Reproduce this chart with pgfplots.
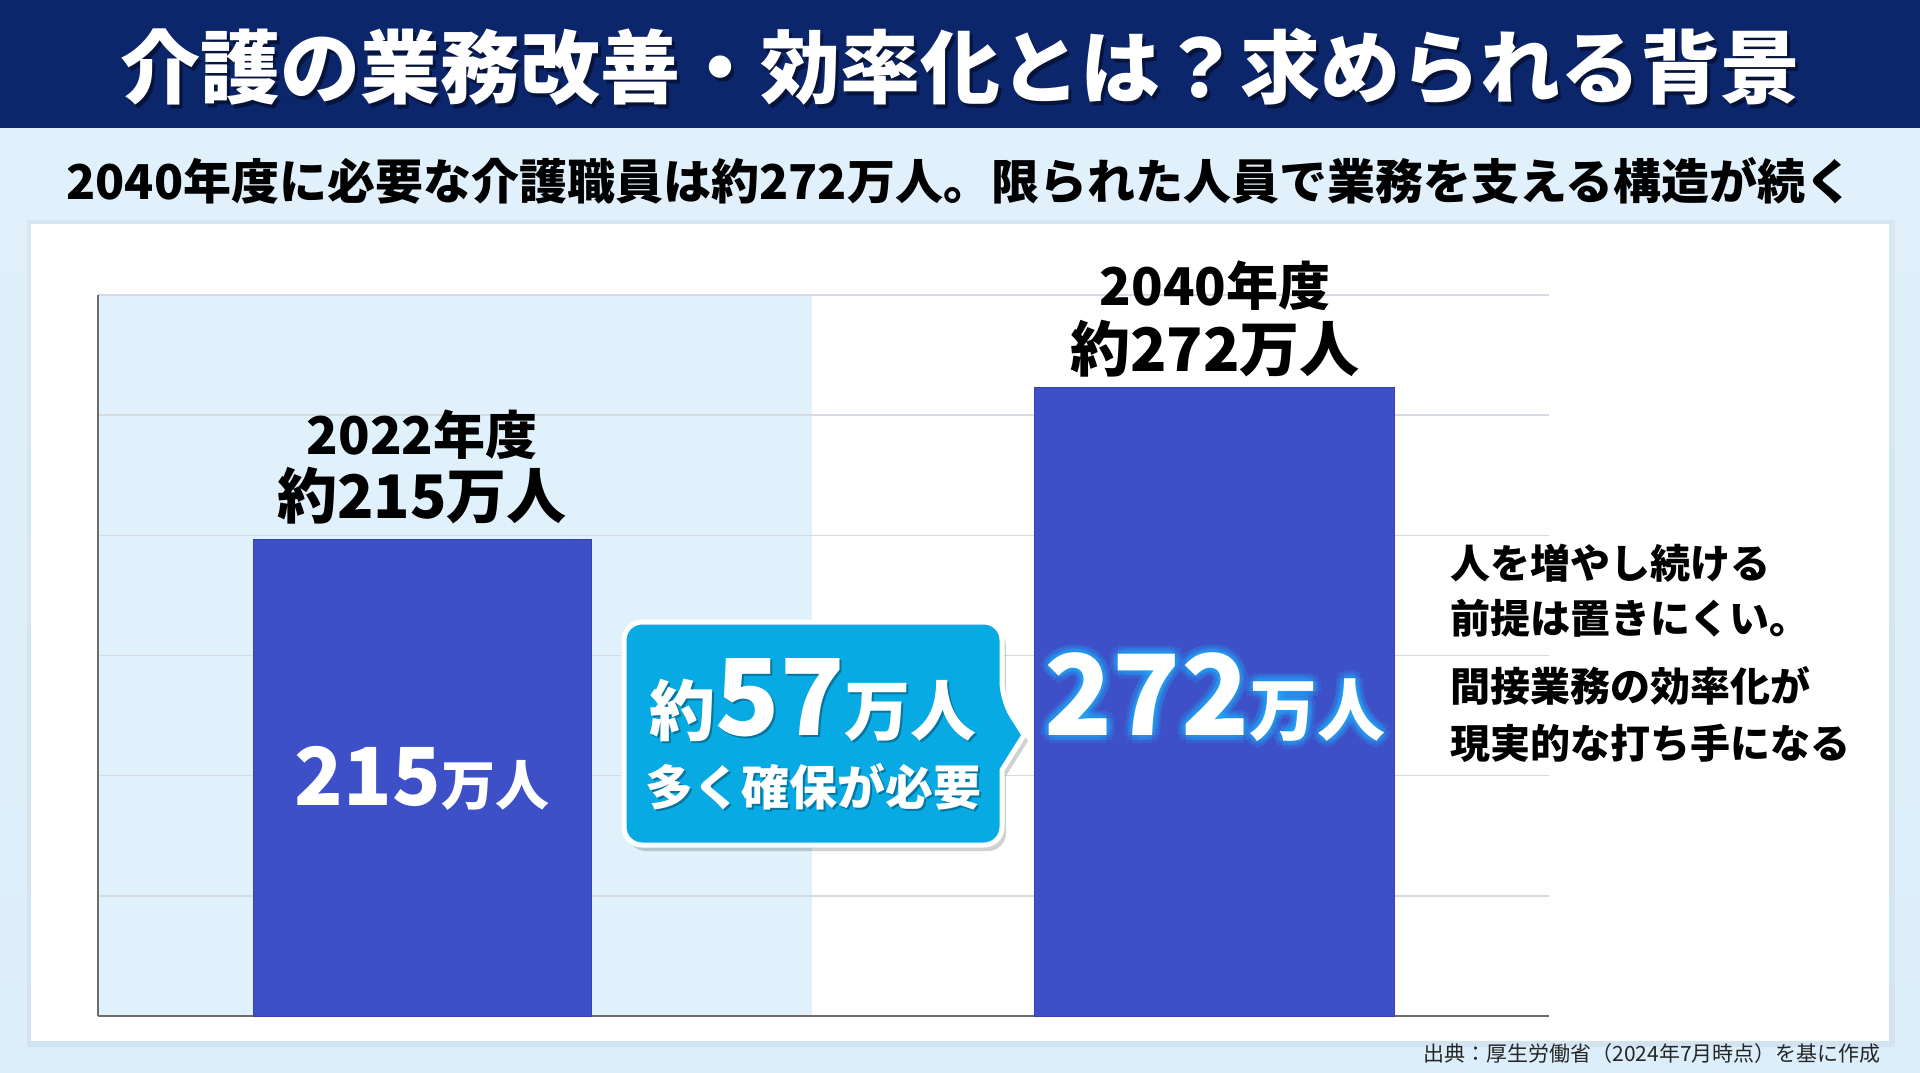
\documentclass[border=0pt]{standalone}
\usepackage{pgfplots}
\pgfplotsset{compat=1.18}
\usetikzlibrary{calc}
\usepackage{fontspec}
\setmainfont{Noto Sans CJK JP}
\definecolor{navy}{RGB}{12,38,108}
\definecolor{bgtop}{RGB}{226,241,251}
\definecolor{bgbot}{RGB}{220,238,250}
\definecolor{barblue}{RGB}{62,80,200}
\definecolor{callout}{RGB}{8,170,228}
\definecolor{shadeblue}{RGB}{224,241,251}
\definecolor{gridgray}{RGB}{214,219,225}
\definecolor{glow}{RGB}{30,180,255}
\newcommand{\fs}[1]{\fontsize{#1}{#1}\selectfont}
\begin{document}
\begin{tikzpicture}
\begin{scope}[x=0.5pt,y=-0.5pt]
\path[use as bounding box] (0,0) rectangle (1920,1072);
\fill[top color=bgtop, bottom color=bgbot] (0,0) rectangle (1920,1072);
\fill[navy] (0,0) rectangle (1920,128);
\fill[black,opacity=0.04] (27,220) rectangle (1895,1047);
\fill[white] (31,224) rectangle (1889,1041);
% shaded band behind the first category
\fill[shadeblue] (98,295) rectangle (812,1016);
\end{scope}

\begin{axis}[at={(49pt,-508pt)}, anchor=south west,
  width=725.5pt, height=360.5pt, scale only axis,
  xmin=-0.41, xmax=1.422, ymin=35, ymax=307,
  ytick={35,80.33,125.67,171,216.33,261.67,307}, yticklabels={},
  xtick=\empty, ymajorgrids,
  grid style={gridgray, line width=0.7pt},
  axis lines*=left, axis line style={gray!85!black, line width=0.6pt},
  major tick length=0pt]
\addplot[ybar, bar width=169pt, bar shift=0pt, fill=barblue, draw=barblue!85!black, line width=0.3pt] coordinates {(0,215)};
\addplot[ybar, bar width=180pt, bar shift=0pt, fill=barblue, draw=barblue!85!black, line width=0.3pt] coordinates {(1,272)};
\end{axis}

\begin{scope}[x=0.5pt,y=-0.5pt]
% title
\node[black, opacity=0.45, font=\bfseries\fs{40}] at (963,71) {介護の業務改善・効率化とは？求められる背景};
\node[white, font=\bfseries\fs{40}] at (960,67) {介護の業務改善・効率化とは？求められる背景};
% subtitle
\node[black, font=\bfseries\fs{24}] at (960,181) {2040年度に必要な介護職員は約272万人。限られた人員で業務を支える構造が続く};
% labels above bars
\node[black, font=\bfseries\fs{26}] at (422,435) {2022年度};
\node[black, font=\bfseries\fs{30}] at (422,496) {約215万人};
\node[black, font=\bfseries\fs{26}] at (1215,286) {2040年度};
\node[black, font=\bfseries\fs{30}] at (1215,349) {約272万人};
% value inside bar 1
\node[white, font=\bfseries, anchor=base] at (422,805) {{\fs{40}215}{\fs{27}万人}};
% value inside bar 2 with glow
\foreach \r in {4,8}{
  \foreach \a in {0,45,...,315}{
    \node[glow, opacity=0.16, font=\bfseries, anchor=base] at ($(1215,735)+(\a:\r)$) {{\fs{56}272}{\fs{34}万人}};
  }
}
\node[white, font=\bfseries, anchor=base] at (1215,735) {{\fs{56}272}{\fs{34}万人}};
% callout
\fill[black, opacity=0.18, rounded corners=9pt] (628,628) -- (1006,628) -- (1006,706) [sharp corners] -- (1028,741) -- (1006,776) [rounded corners=9pt] -- (1006,851) -- (628,851) -- cycle;
\filldraw[fill=callout, draw=white, line width=2.5pt, rounded corners=9pt] (624,622) -- (1002,622) -- (1002,700) [sharp corners] -- (1024,735) -- (1002,770) [rounded corners=9pt] -- (1002,845) -- (624,845) -- cycle;
\node[black, opacity=0.3, font=\bfseries, anchor=base] at (815,737) {{\fs{33}約}{\fs{53}57}{\fs{33}万人}};
\node[white, font=\bfseries, anchor=base] at (813,735) {{\fs{33}約}{\fs{53}57}{\fs{33}万人}};
\node[black, opacity=0.3, font=\bfseries\fs{24}] at (815,789) {多く確保が必要};
\node[white, font=\bfseries\fs{24}] at (813,787) {多く確保が必要};
% right text
\node[black, anchor=west, font=\bfseries\fs{20}] at (1443,563) {人を増やし続ける};
\node[black, anchor=west, font=\bfseries\fs{20}] at (1443,618) {前提は置きにくい。};
\node[black, anchor=west, font=\bfseries\fs{20}] at (1443,686) {間接業務の効率化が};
\node[black, anchor=west, font=\bfseries\fs{20}] at (1443,743) {現実的な打ち手になる};
% footer
\node[black!85, anchor=east, font=\fs{10.5}] at (1888,1053) {出典：厚生労働省（2024年7月時点）を基に作成};
\end{scope}
\end{tikzpicture}
\end{document}
